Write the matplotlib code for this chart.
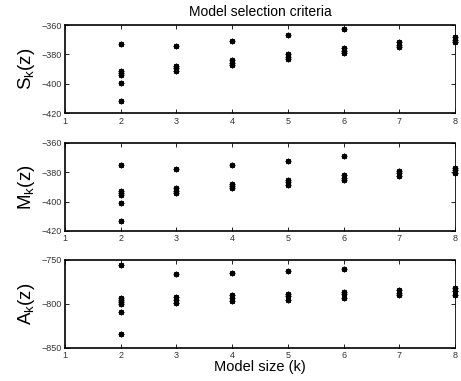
import matplotlib
matplotlib.use("Agg")
import matplotlib.pyplot as plt

plt.rcParams["font.family"] = ["Liberation Sans", "DejaVu Sans"]
plt.rcParams["mathtext.fontset"] = "custom"
plt.rcParams["mathtext.rm"] = "Liberation Sans"
plt.rcParams["mathtext.it"] = "Liberation Sans"

# model sizes and criterion values
s_k = [2] * 6 + [3] * 4 + [4] * 4 + [5] * 4 + [6] * 4 + [7] * 3 + [8] * 3
s_val = [-372.7, -391.2, -392.5, -394.1, -399.3, -411.8,
         -374.5, -388.0, -389.5, -391.4,
         -370.9, -383.9, -385.5, -387.0,
         -366.6, -380.0, -381.6, -383.2,
         -362.5, -375.9, -377.7, -379.3,
         -371.8, -373.4, -375.2,
         -368.4, -370.0, -371.6]

m_k = s_k
m_val = [-375.0, -392.7, -394.3, -395.8, -401.2, -413.5,
         -378.1, -390.9, -392.5, -394.0,
         -375.0, -388.0, -389.6, -391.1,
         -372.3, -385.3, -386.9, -388.4,
         -369.2, -382.2, -383.7, -385.3,
         -379.2, -380.8, -382.4,
         -377.0, -378.5, -380.2]

a_k = [2] * 7 + [3] * 4 + [4] * 4 + [5] * 4 + [6] * 4 + [7] * 3 + [8] * 3
a_val = [-756.4, -793.0, -795.7, -798.3, -800.5, -809.6, -834.8,
         -766.6, -792.6, -795.2, -799.0,
         -764.4, -790.4, -793.0, -797.2,
         -762.5, -788.9, -791.5, -795.2,
         -760.2, -786.2, -789.2, -793.0,
         -784.0, -787.4, -790.4,
         -782.1, -785.8, -789.6]

panels = [
    (s_k, s_val, (-420, -360), [-420, -400, -380, -360], r"S$_\mathregular{k}$(z)"),
    (m_k, m_val, (-420, -360), [-420, -400, -380, -360], r"M$_\mathregular{k}$(z)"),
    (a_k, a_val, (-850, -750), [-850, -800, -750], r"A$_\mathregular{k}$(z)"),
]

fig = plt.figure(figsize=(4.61, 3.81), dpi=100)
boxes = [0.703, 0.394, 0.087]
for (xs, ys, ylim, yticks, lab), b in zip(panels, boxes):
    ax = fig.add_axes([0.141, b, 0.846, 0.231])
    ax.plot(xs, ys, linestyle="none", marker=(8, 2, 0), markersize=4,
            markeredgewidth=0.9, color="black", clip_on=False)
    ax.set_xlim(1, 8)
    ax.set_ylim(*ylim)
    ax.set_xticks(range(1, 9))
    ax.set_yticks(yticks)
    ax.tick_params(direction="in", top=True, right=True, length=3, width=0.6,
                   labelsize=6.5, labelcolor="#333333", pad=2.5)
    for side in ["left", "bottom", "top"]:
        ax.spines[side].set_linewidth(1.2)
    ax.spines["right"].set_linewidth(0.6)
    ax.set_ylabel(lab, fontsize=13.5, labelpad=3)
    if b == boxes[-1]:
        ax.set_xlabel("Model size (k)", fontsize=10.5, labelpad=0)

fig.text(0.564, 0.969, "Model selection criteria", fontsize=10,
         ha="center", va="center")

fig.savefig("out.png", dpi=100)
